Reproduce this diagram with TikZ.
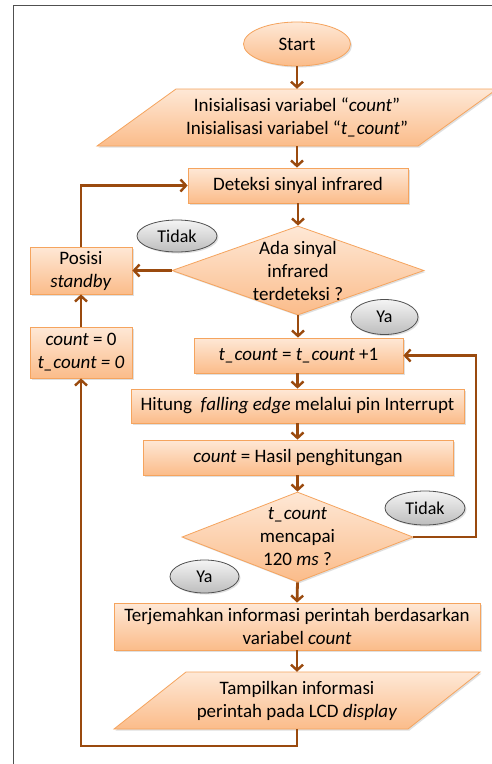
\documentclass[tikz,border=0pt]{standalone}
\usepackage{fontspec}
\setmainfont{Carlito}
\usetikzlibrary{shapes.geometric,arrows.meta,shadows}
\definecolor{boxtop}{HTML}{FEE8D6}
\definecolor{boxbot}{HTML}{FBBC8A}
\definecolor{boxline}{HTML}{F5A45E}
\definecolor{arr}{HTML}{9A4A0E}
\definecolor{lbltop}{HTML}{F4F4F4}
\definecolor{lblbot}{HTML}{BDBDBD}
\definecolor{frame}{HTML}{505050}
\tikzset{
  shp/.style={top color=boxtop, bottom color=boxbot, draw=boxline, line width=0.8pt,
    drop shadow={opacity=0.25, shadow xshift=1.5pt, shadow yshift=-1.5pt}},
  procbox/.style={shp, rectangle, align=center, inner sep=0pt, font=\fontsize{19}{23}\selectfont},
  decis/.style={shp, diamond, align=center, inner sep=0pt, font=\fontsize{19}{23}\selectfont},
  term/.style={shp, ellipse, align=center, inner sep=0pt, font=\fontsize{19}{23}\selectfont},
  txt/.style={rectangle, align=center, inner sep=0pt, font=\fontsize{19}{23}\selectfont},
  lbl/.style={ellipse, top color=lbltop, bottom color=lblbot, draw=frame, line width=0.8pt,
    inner sep=0pt, font=\fontsize{18}{20}\selectfont,
    drop shadow={opacity=0.25, shadow xshift=1.5pt, shadow yshift=-1.5pt}},
  conn/.style={draw=arr, line width=2.8pt, -{Straight Barb[length=5.5pt,width=12pt,line width=2.4pt]}},
}
\begin{document}
\begin{tikzpicture}[x=1pt,y=-1pt]
\useasboundingbox (0,0) rectangle (492,764);
\clip (0,0) rectangle (492,764);
\fill[white] (0,0) rectangle (492,764);
\draw[frame, line width=1.6pt] (13.5,790) -- (13.5,5.5) -- (520,5.5);

% Start
\node[term, minimum width=107pt, minimum height=44pt] (start) at (297,44) {Start};

% Parallelogram 1
\path[shp] (97,146) -- (176,89) -- (497,89) -- (418,146) -- cycle;
\node[txt, minimum height=57pt] (init) at (297,117.5)
  {Inisialisasi variabel “\textit{count}”\\Inisialisasi variabel “\textit{t\_count}”};

% Deteksi
\node[procbox, minimum width=220pt, minimum height=35pt] (detect) at (298,185.5) {Deteksi sinyal infrared};

% Diamond 1
\node[decis, minimum width=252pt, minimum height=89pt] (ada) at (298,270.5) {};
\node[txt] (adatxt) at (298,271) {Ada sinyal\\infrared\\terdeteksi ?};

% Posisi standby
\node[procbox, minimum width=102pt, minimum height=47pt] (standby) at (81,270.5) {Posisi\\\textit{standby}};

% count = 0
\node[procbox, minimum width=102pt, minimum height=51pt] (reset) at (81,352.5)
  {\textit{count} = 0\\\textit{t\_count = 0}};

% t_count = t_count + 1
\node[procbox, minimum width=209pt, minimum height=35pt] (inc) at (298.5,355.5)
  {\textit{t\_count} = \textit{t\_count} +1};

% Hitung
\node[procbox, minimum width=333pt, minimum height=34pt] (hitung) at (297.5,406)
  {Hitung \ \textit{falling edge} melalui pin Interrupt};

% count = Hasil
\node[procbox, minimum width=310pt, minimum height=35pt] (hasil) at (298,457.5)
  {\textit{count} = Hasil penghitungan};

% Diamond 2
\node[decis, minimum width=231pt, minimum height=90pt] (cap) at (297.5,537) {};
\node[txt] (captxt) at (297.5,537) {\textit{t\_count}\\mencapai\\120 \textit{ms} ?};

% Terjemahkan
\node[procbox, minimum width=366pt, minimum height=47pt] (trans) at (297,626.5)
  {Terjemahkan informasi perintah berdasarkan\\variabel \textit{count}};

% Parallelogram 2
\path[shp] (114,729) -- (186,672) -- (480,672) -- (408,729) -- cycle;
\node[txt, minimum height=57pt] (show) at (297,700.5)
  {Tampilkan informasi\\perintah pada LCD \textit{display}};

% labels
\node[lbl, minimum width=80pt, minimum height=32pt] (tidak1) at (177,236) {Tidak};
\node[lbl, minimum width=67pt, minimum height=35pt] (ya1) at (384.5,317) {Ya};
\node[lbl, minimum width=80pt, minimum height=34pt] (tidak2) at (425,508) {Tidak};
\node[lbl, minimum width=69pt, minimum height=33pt] (ya2) at (204.5,576.5) {Ya};

% connectors
\coordinate (c1) at (81,185.5);
\coordinate (c2) at (476,537);
\coordinate (c3) at (476,355.5);
\coordinate (c4) at (297,746);
\coordinate (c5) at (81,746);
\draw[conn] (start) -- (init);
\draw[conn] (init) -- (detect.north -| init);
\draw[conn] (detect.south) -- (ada.north);
\draw[conn] (ada.west) -- (standby.east);
\draw[conn] (standby.north) -- (c1) -- (detect.west);
\draw[conn] (reset.north) -- (standby.south);
\draw[conn] (ada.south) -- (inc.north -| ada.south);
\draw[conn] (inc.south -| hitung.north) -- (hitung.north);
\draw[conn] (hitung.south) -- (hasil.north -| hitung.south);
\draw[conn] (hasil.south -| cap.north) -- (cap.north);
\draw[conn] (cap.east) -- (c2) -- (c3) -- (inc.east);
\draw[conn] (cap.south) -- (trans.north);
\draw[conn] (trans.south) -- (show.north);
\draw[conn] (show.south) -- (c4) -- (c5) -- (reset.south);
\end{tikzpicture}
\end{document}
